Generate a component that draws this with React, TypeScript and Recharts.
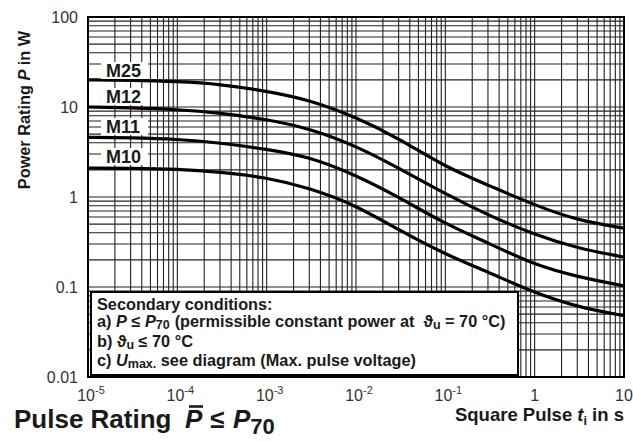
import React from 'react';
import { LineChart, Line, XAxis, YAxis, ReferenceLine } from 'recharts';

// pulse duration in s
const pulseTimes = [1e-5, 3e-5, 1e-4, 3e-4, 1e-3, 3e-3, 1e-2, 3e-2, 0.1, 0.3, 1, 3, 10];

// power rating in W
const m25 = [20, 19.8, 19.2, 18, 15, 12, 7.7, 4.5, 2.15, 1.36, 0.81, 0.55, 0.45];
const m12 = [10, 9.8, 9.4, 8.6, 7.3, 5.8, 3.7, 2.1, 1.08, 0.63, 0.38, 0.27, 0.215];
const m11 = [4.6, 4.55, 4.4, 4.0, 3.4, 2.8, 1.75, 1.0, 0.5, 0.31, 0.175, 0.13, 0.103];
const m10 = [2.1, 2.08, 2.05, 1.9, 1.65, 1.26, 0.81, 0.43, 0.23, 0.147, 0.086, 0.06, 0.048];

const xTicks = [1e-5, 1e-4, 1e-3, 1e-2, 1e-1, 1, 10];
const yTicks = [0.01, 0.1, 1, 10, 100];
const yTickLabels = ['0.01', '0.1', '1', '10', '100'];
const mantissas = [1, 2, 3, 4, 5, 6, 7, 8, 9];

const xGrid = [...xTicks.slice(0, -1).flatMap((d) => mantissas.map((m) => m * d)), 10];
const yGrid = [...yTicks.slice(0, -1).flatMap((d) => mantissas.map((m) => m * d)), 100];

const data = pulseTimes.map((t, i) => ({ t, m25: m25[i], m12: m12[i], m11: m11[i], m10: m10[i] }));

const FONT = '"Liberation Sans", Arial, Helvetica, sans-serif';
const INK = '#1a1a1a';
const TICK_INK = '#333';

const XTick = (props: any) => {
  const { x, y, payload } = props;
  const v = payload.value as number;
  const e = Math.round(Math.log10(v));
  if (e >= 0) {
    return (
      <text x={x} y={y + 16} textAnchor="middle" fontSize={16} fill={TICK_INK} fontFamily={FONT}>
        {e === 0 ? '1' : '10'}
      </text>
    );
  }
  return (
    <text x={x + 3} y={y + 16} textAnchor="middle" fontSize={16} fill={TICK_INK} fontFamily={FONT}>
      <tspan>10</tspan>
      <tspan dy={-7} fontSize={11}>{e}</tspan>
    </text>
  );
};

const YTick = (props: any) => {
  const { y, payload } = props;
  const i = yTicks.indexOf(payload.value);
  return (
    <text x={78} y={y + 6} textAnchor="end" fontSize={16} fill={TICK_INK} fontFamily={FONT}>
      {i >= 0 ? yTickLabels[i] : ''}
    </text>
  );
};

const curveLabels = [
  { text: 'M25', y: 62 },
  { text: 'M12', y: 88 },
  { text: 'M11', y: 118 },
  { text: 'M10', y: 148 },
];

export default function App() {
  return (
    <div style={{ position: 'absolute', left: 0, top: 0, width: 633, height: 441, background: '#fff' }}>
      <LineChart width={633} height={441} data={data} margin={{ top: 17, right: 9, bottom: 0, left: 0 }}>
        <XAxis
          dataKey="t"
          type="number"
          scale="log"
          domain={[1e-5, 10]}
          ticks={xTicks}
          tick={<XTick />}
          axisLine={false}
          tickLine={false}
          height={64}
          allowDataOverflow
        />
        <YAxis
          type="number"
          scale="log"
          domain={[0.01, 100]}
          ticks={yTicks}
          tick={<YTick />}
          axisLine={false}
          tickLine={false}
          width={88}
          allowDataOverflow
        />
        {xGrid.map((v) => (
          <ReferenceLine key={'x' + v} x={v} stroke="#222" strokeWidth={1.1} />
        ))}
        {yGrid.map((v) => (
          <ReferenceLine key={'y' + v} y={v} stroke="#222" strokeWidth={1.1} />
        ))}
        <Line dataKey="m25" type="basis" stroke="#000" strokeWidth={3.2} dot={false} isAnimationActive={false} />
        <Line dataKey="m12" type="basis" stroke="#000" strokeWidth={3.2} dot={false} isAnimationActive={false} />
        <Line dataKey="m11" type="basis" stroke="#000" strokeWidth={3.2} dot={false} isAnimationActive={false} />
        <Line dataKey="m10" type="basis" stroke="#000" strokeWidth={3.2} dot={false} isAnimationActive={false} />
      </LineChart>

      <svg
        width={633}
        height={441}
        style={{ position: 'absolute', left: 0, top: 0, pointerEvents: 'none' }}
        fontFamily={FONT}
        fill={INK}
      >
        <rect x={88} y={17} width={536} height={360} fill="none" stroke="#000" strokeWidth={2} />

        {curveLabels.map((l) => (
          <g key={l.text}>
            <rect x={101} y={l.y} width={47} height={17} fill="#fff" />
            <text x={106} y={l.y + 15} fontSize={18} fontWeight="bold">
              {l.text}
            </text>
          </g>
        ))}

        <rect x={91} y={292} width={427} height={83} fill="#fff" stroke="#000" strokeWidth={2} />
        <g fontSize={16.3} fontWeight="bold">
          <text x={97} y={310}>Secondary conditions:</text>
          <text x={97} y={327}>
            <tspan>a) </tspan>
            <tspan fontStyle="italic">P</tspan>
            <tspan> ≤ </tspan>
            <tspan fontStyle="italic">P</tspan>
            <tspan dy={2} fontSize={12.5}>70</tspan>
            <tspan dy={-2} dx={5}>(permissible constant power at</tspan>
            <tspan dx={9}>ϑ</tspan>
            <tspan dy={2} fontSize={12.5}>u</tspan>
            <tspan dy={-2}> = 70 °C)</tspan>
          </text>
          <text x={97} y={347}>
            <tspan>b) ϑ</tspan>
            <tspan dy={2} fontSize={12.5}>u</tspan>
            <tspan dy={-2}> ≤ 70 °C</tspan>
          </text>
          <text x={97} y={366}>
            <tspan>c) </tspan>
            <tspan fontStyle="italic">U</tspan>
            <tspan dy={2} fontSize={12.5}>max.</tspan>
            <tspan dy={-2}> see diagram (Max. pulse voltage)</tspan>
          </text>
        </g>

        <text transform="translate(30,110) rotate(-90)" textAnchor="middle" fontSize={16.3} fontWeight="bold">
          <tspan>Power Rating </tspan>
          <tspan fontStyle="italic">P</tspan>
          <tspan> in W</tspan>
        </text>

        <text x={624} y={421} textAnchor="end" fontSize={18.5} fontWeight="bold">
          <tspan>Square Pulse </tspan>
          <tspan fontStyle="italic">t</tspan>
          <tspan dy={4} fontSize={12.5}>i</tspan>
          <tspan dy={-4}> in s</tspan>
        </text>

        <text x={14} y={428} fontSize={26} fontWeight="bold">
          <tspan>Pulse Rating</tspan>
          <tspan x={185} fontStyle="italic">P</tspan>
          <tspan x={210}>≤</tspan>
          <tspan x={233} fontStyle="italic">P</tspan>
          <tspan dy={6} fontSize={22}>70</tspan>
        </text>
        <line x1={189} y1={406.5} x2={203} y2={406.5} stroke={INK} strokeWidth={2.6} />
      </svg>
    </div>
  );
}
